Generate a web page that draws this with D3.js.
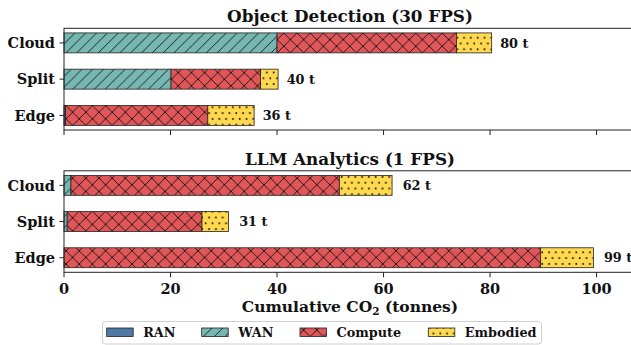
<!DOCTYPE html>
<html><head><meta charset="utf-8">
<script src="https://cdn.jsdelivr.net/npm/d3@7"></script>
<style>body{margin:0;background:#fff}svg{display:block}text{font-family:"DejaVu Serif",serif;font-weight:bold;fill:#111}</style>
</head><body>
<script>
const categories = ["Cloud", "Split", "Edge"];
const seriesNames = ["RAN", "WAN", "Compute", "Embodied"];
const panelTitles = ["Object Detection (30 FPS)", "LLM Analytics (1 FPS)"];
// Object Detection segments per category (tonnes)
const odRAN = [0, 0, 0.3];
const odWAN = [40.0, 20.1, 0];
const odCompute = [33.7, 16.8, 26.7];
const odEmbodied = [6.6, 3.3, 8.7];
// LLM Analytics segments per category (tonnes)
const llmRAN = [0, 0, 0];
const llmWAN = [1.3, 0.6, 0];
const llmCompute = [50.4, 25.3, 89.5];
const llmEmbodied = [9.9, 5.0, 9.9];
const xTicks = [0, 20, 40, 60, 80, 100];
const xMax = 107.4;

const W = 631, H = 345;
const svg = d3.select("body").append("svg").attr("width", W).attr("height", H);
const defs = svg.append("defs");
const colors = {RAN: "#4e79a7", WAN: "#76b7b2", Compute: "#e15759", Embodied: "#ffd84d"};

// hatch patterns
function pat(id, w, h, bg, draw) {
  const p = defs.append("pattern").attr("id", id).attr("patternUnits", "userSpaceOnUse")
    .attr("width", w).attr("height", h);
  p.append("rect").attr("width", w).attr("height", h).attr("fill", bg);
  draw(p, w, h);
}
pat("p-RAN", 10, 10, colors.RAN, () => {});
pat("p-WAN", 10.8, 10.8, colors.WAN, (p, w, h) => {
  p.append("path").attr("d", `M0,${h} L${w},0 M${-w/2},${h/2} L${w/2},${-h/2} M${w/2},${h*1.5} L${w*1.5},${h/2}`)
    .attr("stroke", "#111").attr("stroke-width", 0.9).attr("fill", "none");
});
pat("p-Compute", 13.2, 13.2, colors.Compute, (p, w, h) => {
  p.append("path").attr("d", `M0,${h} L${w},0 M0,0 L${w},${h}`)
    .attr("stroke", "#111").attr("stroke-width", 0.9).attr("fill", "none");
});
pat("p-Embodied", 6.8, 11.6, colors.Embodied, (p, w, h) => {
  p.append("circle").attr("cx", w*0.25).attr("cy", h*0.25).attr("r", 1.0).attr("fill", "#111");
  p.append("circle").attr("cx", w*0.75).attr("cy", h*0.75).attr("r", 1.0).attr("fill", "#111");
});

const x = d3.scaleLinear().domain([0, xMax]).range([64, 636]);

const panels = [
  {title: panelTitles[0], data: [odRAN, odWAN, odCompute, odEmbodied], top: 28.3, bottom: 130, labels: false},
  {title: panelTitles[1], data: [llmRAN, llmWAN, llmCompute, llmEmbodied], top: 170.8, bottom: 272.3, labels: true}
];

panels.forEach(pn => {
  const g = svg.append("g");
  const y = d3.scaleLinear().domain([-0.4025, 2.4025]).range([pn.top, pn.bottom]);
  const bh = y(0.55) - y(0);
  const totals = categories.map((c, i) => d3.sum(pn.data, arr => arr[i]));
  const off = 0.02 * d3.max(totals);
  // bars
  categories.forEach((c, i) => {
    let acc = 0;
    seriesNames.forEach((s, k) => {
      const v = pn.data[k][i];
      if (v > 0) {
        g.append("rect").attr("x", x(acc)).attr("y", y(i) - bh/2)
          .attr("width", x(acc + v) - x(acc)).attr("height", bh)
          .attr("fill", `url(#p-${s})`).attr("stroke", "#222").attr("stroke-width", 0.8);
      }
      acc += v;
    });
    g.append("text").attr("x", x(acc + off)).attr("y", y(i)).attr("dy", "0.36em")
      .attr("font-size", 12.8).text(`${Math.round(acc)} t`);
  });
  // frame
  g.append("rect").attr("x", x(0)).attr("y", pn.top).attr("width", x(xMax) - x(0)).attr("height", pn.bottom - pn.top)
    .attr("fill", "none").attr("stroke", "#222").attr("stroke-width", 1);
  // y axis
  const ya = g.append("g");
  categories.forEach((c, i) => {
    ya.append("line").attr("x1", 64).attr("x2", 59.5).attr("y1", y(i)).attr("y2", y(i)).attr("stroke", "#222");
    ya.append("text").attr("x", 55).attr("y", y(i)).attr("dy", "0.36em").attr("text-anchor", "end")
      .attr("font-size", 14.5).text(c);
  });
  // x ticks
  xTicks.forEach(t => {
    g.append("line").attr("x1", x(t)).attr("x2", x(t)).attr("y1", pn.bottom).attr("y2", pn.bottom + 5).attr("stroke", "#222");
    if (pn.labels) g.append("text").attr("x", x(t)).attr("y", pn.bottom + 21.5).attr("text-anchor", "middle")
      .attr("font-size", 14.5).text(t);
  });
  // title
  g.append("text").attr("x", (x(0) + x(xMax)) / 2).attr("y", pn.top - 6.3).attr("text-anchor", "middle")
    .attr("font-size", 16.8).text(pn.title);
});

// x label
const xl = svg.append("text").attr("x", 350).attr("y", 312).attr("text-anchor", "middle").attr("font-size", 15.5);
xl.append("tspan").text("Cumulative CO");
xl.append("tspan").attr("font-size", 10.5).attr("dy", 3).text("2");
xl.append("tspan").attr("dy", -3).text(" (tonnes)");

// legend
const lg = svg.append("g");
lg.append("rect").attr("x", 102.5).attr("y", 321.5).attr("width", 439).attr("height", 22.5).attr("rx", 3)
  .attr("fill", "#fff").attr("stroke", "#d0d0d0").attr("stroke-width", 1);
const legX = [106.7, 201.7, 300, 428.3];
seriesNames.forEach((s, k) => {
  lg.append("rect").attr("x", legX[k]).attr("y", 328).attr("width", 26.5).attr("height", 8.5)
    .attr("fill", `url(#p-${s})`).attr("stroke", "#222").attr("stroke-width", 0.8);
  lg.append("text").attr("x", legX[k] + 36.5).attr("y", 332.3).attr("dy", "0.36em").attr("font-size", 12.8).text(s);
});
</script>
</body></html>
